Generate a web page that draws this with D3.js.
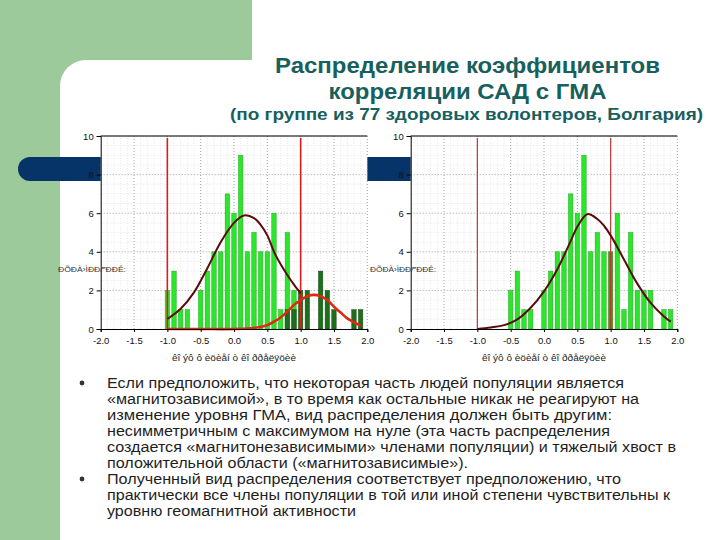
<!DOCTYPE html>
<html><head><meta charset="utf-8">
<script src="https://cdn.jsdelivr.net/npm/d3@7"></script>
<style>html,body{margin:0;padding:0;background:#fff;} svg{display:block;font-family:"Liberation Sans",Arial,sans-serif;}</style>
</head><body><svg id="c" width="720" height="540"></svg>
<script>
// ---------- DATA ----------
const titleLines = ["Распределение коэффициентов", "корреляции САД с ГМА"];
const subtitle = "(по группе из 77 здоровых волонтеров, Болгария)";
const xTicks = [-2.0, -1.5, -1.0, -0.5, 0.0, 0.5, 1.0, 1.5, 2.0];
const yTicks = [0, 2, 4, 6, 8, 10];
const xLabel = "êî ýô ô èöèåí ò êî ððåëÿöèè";
const yLabel = "ÐÕÐÀ›ÌÐÐ/‴ÐÐÊ:";
const markers = [-1.0, 1.0];

// left chart: model histogram
const leftLightBins   = [-1.0, -0.9, -0.8, -0.7, -0.5, -0.4, -0.3, -0.2, -0.1, 0.0, 0.1, 0.2, 0.3, 0.4, 0.5, 0.6, 0.7, 0.8, 0.9];
const leftLightValues = [2, 3, 1, 1, 2, 3, 4, 4, 7, 6, 9, 4, 5, 4, 4, 6, 1, 5, 2];
const leftDarkBins    = [0.8, 0.9, 1.0, 1.1, 1.3, 1.4, 1.5, 1.8, 1.9];
const leftDarkValues  = [1, 1, 2, 2, 3, 2, 1, 1, 1];
const leftBrownX = [-1.0, -0.8, -0.6, -0.4, -0.2, 0.0, 0.15, 0.3, 0.4, 0.5, 0.6, 0.7, 0.8, 0.9, 1.0];
const leftBrownY = [0.52, 1.05, 1.9, 3.15, 4.5, 5.5, 5.88, 5.75, 5.4, 4.85, 4.0, 3.35, 2.8, 2.3, 1.85];
const leftRedX = [-1.0, -0.5, 0.0, 0.3, 0.5, 0.6, 0.7, 0.8, 0.9, 1.0, 1.1, 1.2, 1.3, 1.4, 1.5, 1.6, 1.7, 1.8, 1.9];
const leftRedY = [0, 0, 0, 0.05, 0.2, 0.38, 0.6, 0.9, 1.25, 1.5, 1.7, 1.77, 1.7, 1.5, 1.15, 0.85, 0.55, 0.35, 0.18];

// right chart: observed histogram
const rightBins   = [-0.5, -0.4, -0.3, -0.2, 0.0, 0.1, 0.2, 0.3, 0.4, 0.5, 0.6, 0.7, 0.8, 0.9, 1.0, 1.1, 1.2, 1.3, 1.4, 1.5, 1.6, 1.8, 1.9];
const rightValues = [2, 3, 1, 1, 2, 3, 4, 4, 7, 6, 9, 4, 5, 4, 4, 6, 1, 5, 2, 2, 2, 1, 1];
const rightBrownX = [-1.0, -0.8, -0.6, -0.4, -0.2, 0.0, 0.2, 0.4, 0.5, 0.65, 0.8, 0.9, 1.0, 1.2, 1.4, 1.6, 1.8, 1.9];
const rightBrownY = [0.0, 0.08, 0.2, 0.5, 1.1, 1.95, 3.1, 4.55, 5.3, 5.95, 5.7, 5.35, 4.85, 3.6, 2.35, 1.35, 0.65, 0.38];

const bullets = [
  ["Если предположить, что некоторая часть людей популяции является",
   "«магнитозависимой», в то время как остальные никак не реагируют на",
   "изменение уровня ГМА, вид распределения должен быть другим:",
   "несимметричным с максимумом на нуле (эта часть распределения",
   "создается «магнитонезависимыми» членами популяции) и тяжелый хвост в",
   "положительной области («магнитозависимые»)."],
  ["Полученный вид распределения соответствует предположению, что",
   "практически все члены популяции в той или иной степени чувствительны к",
   "уровню геомагнитной активности"]
];

// ---------- DRAWING ----------
const svg = d3.select("#c");
const GREEN = "#9dca9a", NAVY = "#063468", TEAL = "#17605e";

// slide decoration
svg.append("rect").attr("x",0).attr("y",0).attr("width",720).attr("height",540).attr("fill","#fff");
svg.append("rect").attr("x",0).attr("y",0).attr("width",252).attr("height",90).attr("fill",GREEN);
svg.append("rect").attr("x",0).attr("y",0).attr("width",90).attr("height",540).attr("fill",GREEN);
svg.append("rect").attr("x",60).attr("y",60).attr("width",800).attr("height",600).attr("rx",26).attr("fill","#fff");
svg.append("rect").attr("x",18).attr("y",157).attr("width",500).attr("height",24).attr("rx",12).attr("fill",NAVY);

// titles
const tw = [385, 278];
const ty = [73, 99];
titleLines.forEach((t,i)=>{
  svg.append("text").attr("x",467.5).attr("y",ty[i]).attr("text-anchor","middle")
    .attr("font-size",22).attr("font-weight","bold").attr("fill",TEAL)
    .attr("textLength",tw[i]).attr("lengthAdjust","spacingAndGlyphs").text(t);
});
svg.append("text").attr("x",466.5).attr("y",120).attr("text-anchor","middle")
  .attr("font-size",16).attr("font-weight","bold").attr("fill",TEAL)
  .attr("textLength",473).attr("lengthAdjust","spacingAndGlyphs").text(subtitle);

function drawChart(cfg){
  const g = svg.append("g");
  const x = d3.scaleLinear().domain([xTicks[0], xTicks[xTicks.length-1]]).range([cfg.left, cfg.left+266.6]);
  const y = d3.scaleLinear().domain([0, 10]).range([329, 136]);
  g.append("rect").attr("x",x.range()[0]).attr("y",y(10)).attr("width",x.range()[1]-x.range()[0]).attr("height",y(0)-y(10)).attr("fill","#fff");
  // minor grid
  const minorX = d3.range(-20, 21).map(d=>d/10).filter(d=>Math.abs(d*2-Math.round(d*2))>1e-6);
  const minorY = d3.range(0, 21).map(d=>d/2).filter(d=>d%2!==0);
  g.selectAll(".mx").data(minorX).join("line").attr("x1",d=>x(d)).attr("x2",d=>x(d)).attr("y1",y(0)).attr("y2",y(10))
    .attr("stroke","#d6d6d6").attr("stroke-width",0.6).attr("stroke-dasharray","1,1.5");
  g.selectAll(".my").data(minorY).join("line").attr("x1",x.range()[0]).attr("x2",x.range()[1]).attr("y1",d=>y(d)).attr("y2",d=>y(d))
    .attr("stroke","#d6d6d6").attr("stroke-width",0.6).attr("stroke-dasharray","1,1.5");
  // major grid
  g.selectAll(".gx").data(xTicks.slice(1)).join("line").attr("x1",d=>x(d)).attr("x2",d=>x(d)).attr("y1",y(0)).attr("y2",y(10))
    .attr("stroke","#8a8a8a").attr("stroke-width",0.8).attr("stroke-dasharray","1,2");
  g.selectAll(".gy").data(yTicks.slice(1)).join("line").attr("x1",x.range()[0]).attr("x2",x.range()[1]).attr("y1",d=>y(d)).attr("y2",d=>y(d))
    .attr("stroke","#8a8a8a").attr("stroke-width",0.8).attr("stroke-dasharray","1,2");

  const bw = 4.4;
  cfg.series.forEach(s=>{
    g.selectAll(null).data(s.bins.map((b,i)=>({b, v:s.values[i]}))).join("rect")
      .attr("x",d=>x(d.b)-bw/2).attr("y",d=>y(d.v)).attr("width",bw).attr("height",d=>y(0)-y(d.v))
      .attr("fill",s.fill).attr("stroke",s.stroke).attr("stroke-width",0.5);
  });

  // marker lines
  markers.forEach(m=>{
    g.append("line").attr("x1",x(m)).attr("x2",x(m)).attr("y1",y(9.9)).attr("y2",y(0))
      .attr("stroke",cfg.markerColor).attr("stroke-width",cfg.markerWidth);
    if (cfg.tintMarkerBars){
      cfg.series.forEach(s=>{
        s.bins.forEach((b,i)=>{ if (Math.abs(b-m)<1e-6){
          g.append("rect").attr("x",x(b)-bw/2).attr("y",y(s.values[i])).attr("width",bw).attr("height",y(0)-y(s.values[i]))
            .attr("fill","#a0382a").attr("opacity",0.55);
        }});
      });
    }
  });

  const line = d3.line().x(d=>x(d[0])).y(d=>y(d[1])).curve(d3.curveCatmullRom.alpha(0.5));
  cfg.curves.forEach(c=>{
    g.append("path").attr("d", line(c.xs.map((v,i)=>[v,c.ys[i]]))).attr("fill","none")
      .attr("stroke",c.color).attr("stroke-width",c.width).attr("stroke-linejoin","round");
  });

  // axes
  const fmtX = d => d3.format(".1f")(d).replace("\u2212","-");
  const yAxis = d3.axisLeft(y).tickValues(yTicks).tickSize(4).tickFormat(d3.format("d"));
  const ya = g.append("g").attr("transform",`translate(${x.range()[0]},0)`).call(yAxis);
  const xAxis = d3.axisBottom(x).tickValues(xTicks).tickSize(3).tickFormat(fmtX);
  const xa = g.append("g").attr("transform",`translate(0,${y(0)})`).call(xAxis);
  [ya,xa].forEach(a=>{
    a.select(".domain").attr("stroke","#000").attr("stroke-width",1);
    a.selectAll(".tick line").attr("stroke","#000");
    a.selectAll("text").attr("font-size",9.5).attr("fill","#111").attr("font-family","Liberation Sans, Arial, sans-serif");
  });
  xa.selectAll("text").attr("dy","0.95em");
  g.append("line").attr("x1",x.range()[0]).attr("x2",x.range()[1]).attr("y1",y(10)).attr("y2",y(10)).attr("stroke","#000").attr("stroke-width",1);

  g.append("text").attr("x",(x.range()[0]+x.range()[1])/2).attr("y",361).attr("text-anchor","middle")
    .attr("font-size",8.5).attr("fill","#222").attr("textLength",124).attr("lengthAdjust","spacingAndGlyphs").text(xLabel);
  g.append("text").attr("x",cfg.ylabX).attr("y",272).attr("font-size",6.5).attr("fill","#333")
    .attr("textLength",cfg.ylabW).attr("lengthAdjust","spacingAndGlyphs").text(yLabel);
}

drawChart({
  left:100.7,
  series:[
    {bins:leftLightBins, values:leftLightValues, fill:"#2be62b", stroke:"#1aa81a"},
    {bins:leftDarkBins, values:leftDarkValues, fill:"#1d6e1d", stroke:"#124a12"}
  ],
  curves:[
    {xs:leftBrownX, ys:leftBrownY, color:"#5a0c0c", width:2},
    {xs:leftRedX, ys:leftRedY, color:"#dd2a12", width:2.6}
  ],
  markerColor:"#dd1c1c", markerWidth:1.6, tintMarkerBars:false, ylabX:58, ylabW:68
});
drawChart({
  left:410.7,
  series:[
    {bins:rightBins, values:rightValues, fill:"#2be62b", stroke:"#1aa81a"}
  ],
  curves:[
    {xs:rightBrownX, ys:rightBrownY, color:"#5a0c0c", width:2}
  ],
  markerColor:"#b83a3a", markerWidth:1.2, tintMarkerBars:true, ylabX:370, ylabW:66
});

// bullets
const lineWidths = [[517, 532, 505, 503, 569, 361], [514, 563, 249]];
let yy = 388;
bullets.forEach((b,bi)=>{
  svg.append("circle").attr("cx",82).attr("cy",yy-5).attr("r",2.4).attr("fill","#333");
  b.forEach((t,i)=>{
    svg.append("text").attr("x",107).attr("y",yy).attr("font-size",14).attr("fill","#1e1e1e")
      .attr("textLength",lineWidths[bi][i]).attr("lengthAdjust","spacingAndGlyphs").text(t);
    yy += 16;
  });
});
</script></body></html>
